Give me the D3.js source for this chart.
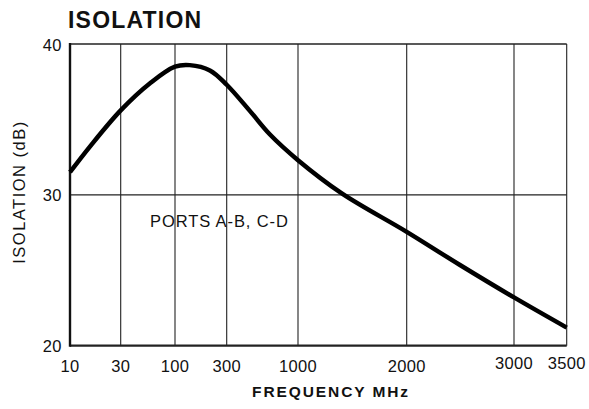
<!DOCTYPE html>
<html>
<head>
<meta charset="utf-8">
<script src="https://cdn.jsdelivr.net/npm/d3@7"></script>
<style>
  body { margin: 0; background: #fff; }
  text { font-family: "Liberation Sans", Arial, sans-serif; fill: #111; }
</style>
</head>
<body>
<svg width="589" height="409"></svg>
<script>
// Tick values
const xTicks = [10, 30, 100, 300, 1000, 2000, 3000, 3500];
const yTicks = [20, 30, 40];

// Isolation curve, ports A-B, C-D
const freqMHz = [10, 15.4, 30, 57.5, 100, 137, 210, 300, 445, 623, 1000, 1322, 2000, 2446, 3000, 3500];
const isolationDb = [31.5, 33.2, 35.6, 37.4, 38.5, 38.6, 38.25, 37.3, 35.55, 34.0, 32.3, 30.1, 27.55, 25.35, 23.2, 21.2];

const svg = d3.select("svg");

// the paper grid is not a plain log axis: each tick gets its own spot
const xPos = [70, 120.7, 175, 226.7, 298, 406.7, 514, 566.7];
const x = d3.scaleLinear()
    .domain(xTicks.map(Math.log10))
    .range(xPos);
const fx = f => x(Math.log10(f));

const y = d3.scaleLinear()
    .domain([20, 40])
    .range([345.7, 44]);

// Grid
svg.append("g")
    .selectAll("line")
    .data(xTicks)
    .join("line")
    .attr("x1", d => fx(d)).attr("x2", d => fx(d))
    .attr("y1", y(40)).attr("y2", y(20))
    .attr("stroke", "#222")
    .attr("stroke-width", 1.1);

svg.append("g")
    .selectAll("line")
    .data(yTicks)
    .join("line")
    .attr("x1", fx(10)).attr("x2", fx(3500))
    .attr("y1", d => y(d)).attr("y2", d => y(d))
    .attr("stroke", "#222")
    .attr("stroke-width", d => d === 20 ? 2.2 : 1.4);

// heavier left border
svg.append("line")
    .attr("x1", fx(10)).attr("x2", fx(10))
    .attr("y1", y(40) - 1).attr("y2", y(20) + 1)
    .attr("stroke", "#111")
    .attr("stroke-width", 2.4);

// Tick labels
svg.append("g")
    .selectAll("text")
    .data(yTicks)
    .join("text")
    .attr("x", 62)
    .attr("y", d => y(d) + 6.5)
    .attr("text-anchor", "end")
    .attr("font-size", "16.5px")
    .attr("letter-spacing", "0.5px")
    .text(d => d);

svg.append("g")
    .selectAll("text")
    .data(xTicks)
    .join("text")
    .attr("x", d => fx(d))
    .attr("y", d => d >= 3000 ? 369 : 372)
    .attr("text-anchor", "middle")
    .attr("font-size", "16.5px")
    .attr("letter-spacing", "0.3px")
    .text(d => d);

// Curve
const line = d3.line()
    .x((d, i) => fx(freqMHz[i]))
    .y(d => y(d))
    .curve(d3.curveCatmullRom.alpha(0.5));

svg.append("path")
    .datum(isolationDb)
    .attr("fill", "none")
    .attr("stroke", "#000")
    .attr("stroke-width", 4.5)
    .attr("d", line);

// Titles and annotation
svg.append("text")
    .attr("x", 68).attr("y", 28)
    .attr("font-size", "23px")
    .attr("font-weight", "bold")
    .attr("letter-spacing", "1.2px")
    .text("ISOLATION");

svg.append("text")
    .attr("transform", "translate(25,192) rotate(-90)")
    .attr("text-anchor", "middle")
    .attr("font-size", "16.5px")
    .attr("letter-spacing", "1.5px")
    .text("ISOLATION (dB)");

svg.append("text")
    .attr("x", 150).attr("y", 227)
    .attr("font-size", "16.5px")
    .attr("letter-spacing", "0.9px")
    .text("PORTS A-B, C-D");

svg.append("text")
    .attr("x", 331).attr("y", 397)
    .attr("text-anchor", "middle")
    .attr("font-size", "15.5px")
    .attr("font-weight", "bold")
    .attr("letter-spacing", "1.9px")
    .text("FREQUENCY MHz");
</script>
</body>
</html>
